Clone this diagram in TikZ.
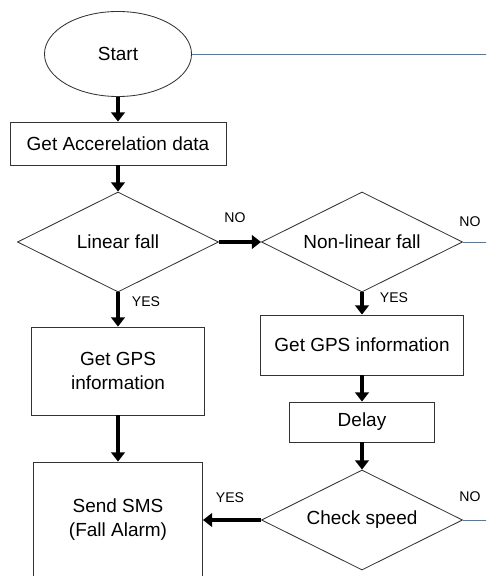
\documentclass[tikz,border=0pt]{standalone}
\usepackage{fontspec}
\setmainfont{Liberation Sans}
\usetikzlibrary{shapes.geometric,arrows.meta}
\definecolor{lineblue}{RGB}{90,120,150}
\begin{document}
\begin{tikzpicture}[x=0.025cm,y=-0.025cm,
  box/.style={draw=black!80,line width=0.6pt,align=center,inner sep=0pt,
    font=\fontsize{13.5}{17}\selectfont},
  decision/.style={box,diamond,minimum width=5.025cm,minimum height=2.5cm},
  flow/.style={line width=1.1mm,-{Triangle[width=3.4mm,length=2.3mm]}},
  lbl/.style={font=\fontsize{10}{12}\selectfont}]
\clip (0,0) rectangle (486,576);

\node[box,ellipse,minimum width=3.675cm,minimum height=2.125cm] (start) at (118,54) {Start};
\node[box,minimum width=5.4cm,minimum height=1.075cm] (accel) at (118,143.5) {Get Accerelation data};
\node[decision] (linear) at (118,242) {\makebox[0pt]{Linear fall}};
\node[decision] (nonlinear) at (362,242) {\makebox[0pt]{Non-linear fall}};
\node[box,minimum width=4.325cm,minimum height=2.2cm] (gpsleft) at (118,371) {Get GPS\\information};
\node[box,minimum width=5.075cm,minimum height=1.5cm] (gpsright) at (362,345) {Get GPS information};
\node[box,minimum width=3.625cm,minimum height=1cm] (delay) at (362,422) {Delay};
\node[decision] (speed) at (362,520) {\makebox[0pt]{Check speed}};
\node[box,minimum width=4.225cm,minimum height=2.9cm] (sms) at (118,520) {Send SMS\\(Fall Alarm)};

% free ends on the right edge
\coordinate (startout) at (490,54);
\coordinate (nonlinearout) at (490,242);
\coordinate (speedout) at (490,520);

\draw[flow] (start) -- (accel);
\draw[flow] (accel) -- (linear);
\draw[flow] (linear) -- (nonlinear);
\draw[flow] (linear) -- (gpsleft);
\draw[flow] (nonlinear) -- (gpsright);
\draw[flow] (gpsleft) -- (sms);
\draw[flow] (gpsright) -- (delay);
\draw[flow] (delay) -- (speed);
\draw[flow] (speed) -- (sms);

\draw[lineblue,line width=0.6pt] (start) -- (startout);
\draw[lineblue,line width=0.6pt] (nonlinear) -- (nonlinearout);
\draw[lineblue,line width=0.6pt] (speed) -- (speedout);

\node[lbl] (no1) at (235,218) {NO};
\node[lbl] (no2) at (470,222) {NO};
\node[lbl] (yes1) at (146,302) {YES};
\node[lbl] (yes2) at (394,298) {YES};
\node[lbl] (yes3) at (230,498) {YES};
\node[lbl] (no3) at (470,497) {NO};
\end{tikzpicture}
\end{document}
